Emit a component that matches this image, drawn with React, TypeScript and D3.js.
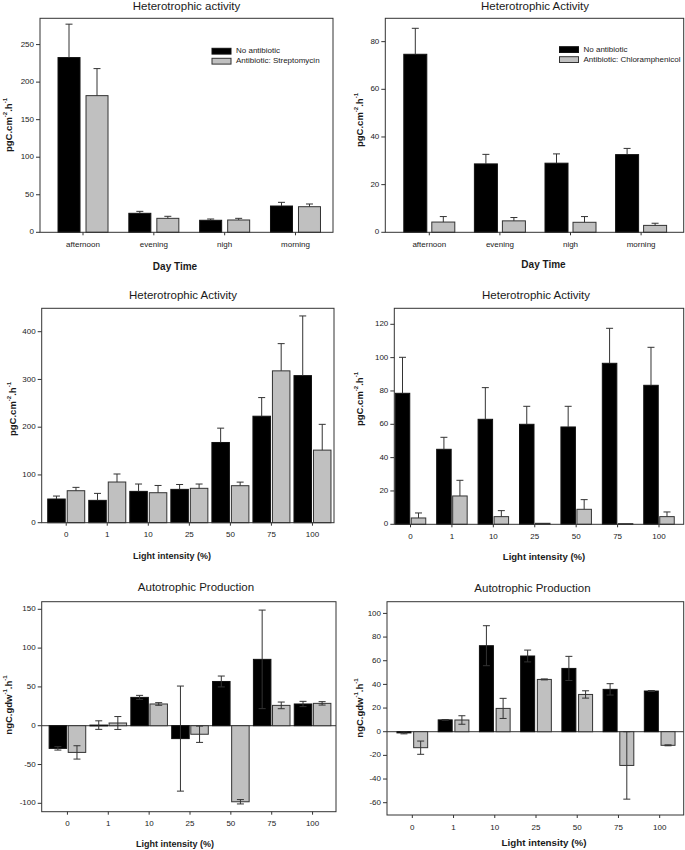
import React from "react";
import * as d3 from "d3";

// ---------- data ----------
const dayCats = ["afternoon", "evening", "nigh", "morning"];
const lightCats = ["0", "1", "10", "25", "50", "75", "100"];

const strepNoAb = [232.7, 25.3, 16, 35];
const strepNoAbErr = [44.5, 2.6, 1.7, 4.9];
const strepAb = [182, 18.6, 16.4, 34.1];
const strepAbErr = [36, 2.7, 2.2, 3.6];

const chlorNoAb = [74.7, 28.7, 29, 32.6];
const chlorNoAbErr = [10.9, 4, 3.9, 2.6];
const chlorAb = [4.3, 4.8, 4.2, 2.9];
const chlorAbErr = [2.3, 1.4, 2.4, 0.9];

const het1NoAb = [49.6, 46.8, 65.6, 69.8, 168, 223, 308];
const het1NoAbErr = [6.2, 14.6, 15.4, 10.2, 30, 39, 125];
const het1Ab = [67, 85.2, 62.8, 72, 77.5, 318, 152];
const het1AbErr = [7, 16.8, 15.2, 9, 7.5, 57, 54];

const het2NoAb = [78.6, 45, 63, 60, 58.4, 96.6, 83.4];
const het2NoAbErr = [21.6, 7.2, 19, 10.8, 12.4, 21, 22.8];
const het2Ab = [3.8, 17, 4.6, 0.6, 9, 0.4, 4.6];
const het2AbErr = [3, 9.4, 3.6, 0, 5.8, 0, 2.8];

const auto1NoAb = [-29.2, 0.8, 36.5, -16.6, 57, 85.5, 28];
const auto1NoAbErr = [2.2, 5.5, 2.6, 67.7, 7, 63.5, 3.4];
const auto1Ab = [-34.4, 3.5, 28, -11, -98, 26.2, 28.8];
const auto1AbErr = [8.6, 8.3, 1.7, 10.5, 2.8, 4.3, 2.2];

const auto2NoAb = [-1, 10, 72.7, 64, 53.5, 35.8, 34.4];
const auto2NoAbErr = [0.8, 0.3, 16.9, 5, 10.2, 4.8, 0.4];
const auto2Ab = [-13.5, 9.9, 19.7, 44.2, 31.5, -28.5, -11.5];
const auto2AbErr = [5.6, 3.6, 8.5, 0.4, 3.1, 28.5, 0.4];

const ticks1 = [0, 50, 100, 150, 200, 250];
const ticks2 = [0, 20, 40, 60, 80];
const ticks3 = [0, 100, 200, 300, 400];
const ticks4 = [0, 20, 40, 60, 80, 100, 120];
const ticks5 = [-100, -50, 0, 50, 100, 150];
const ticks6 = [-60, -40, -20, 0, 20, 40, 60, 80, 100];

const legendNoAb = "No antibiotic";
const legendStrep = "Antibiotic: Streptomycin";
const legendChlor = "Antibiotic: Chloramphenicol";

// ---------- styles ----------
const FONT = "'Liberation Sans', Arial, Helvetica, sans-serif";
const TXT = "#1a1a1a";
const AX = "#333";
const BLACK = "#000";
const GRAY = "#c0c0c0";

type PanelProps = {
  frame: [number, number, number, number];
  domain: [number, number];
  ticks: number[];
  cats: string[];
  bandRange: [number, number];
  barW: number;
  gap: number;
  a: number[];
  aErr: number[];
  b: number[];
  bErr: number[];
  twoSided?: boolean;
  title: string;
  titlePos: [number, number];
  xLabel: string;
  xLabelPos: [number, number];
  xLabelSize: number;
  yUnit: [string, string, string, string];
  yLabelPos: [number, number];
  legend?: { x: number; y: number; labels: [string, string] };
  zeroLine?: boolean;
};

function Panel(p: PanelProps) {
  const [x0, y0, x1, y1] = p.frame;
  const y = d3.scaleLinear().domain(p.domain).range([y1, y0]);
  const x = d3.scaleBand<string>().domain(p.cats).range(p.bandRange).padding(0);
  const center = (c: string) => (x(c) as number) + x.bandwidth() / 2;
  const capW = 7;

  const bars = (vals: number[], errs: number[], fill: string, stroke: string, side: number) =>
    p.cats.map((c, i) => {
      const cx = center(c);
      const bx = side < 0 ? cx - p.gap / 2 - p.barW : cx + p.gap / 2;
      const v = vals[i];
      const e = errs[i];
      const top = y(Math.max(0, v));
      const bot = y(Math.min(0, v));
      const mid = bx + p.barW / 2;
      let eTop: number, eBot: number;
      if (p.twoSided) {
        eTop = y(v + e);
        eBot = y(v - e);
      } else {
        eTop = y(v >= 0 ? v + e : v);
        eBot = y(v >= 0 ? v : v - e);
      }
      const showTop = p.twoSided || v >= 0;
      const showBot = p.twoSided || v < 0;
      return (
        <g key={c + side}>
          <rect x={bx} y={top} width={p.barW} height={Math.max(0.8, bot - top)} fill={fill} stroke={stroke} strokeWidth={1} />
          {e > 0 && (
            <g stroke={AX} strokeWidth={1}>
              <line x1={mid} x2={mid} y1={eTop} y2={eBot} />
              {showTop && <line x1={mid - capW / 2} x2={mid + capW / 2} y1={eTop} y2={eTop} />}
              {showBot && <line x1={mid - capW / 2} x2={mid + capW / 2} y1={eBot} y2={eBot} />}
            </g>
          )}
        </g>
      );
    });

  return (
    <g fontFamily={FONT} fill={TXT}>
      <text x={p.titlePos[0]} y={p.titlePos[1]} textAnchor="middle" dominantBaseline="middle" fontSize={11.5}>
        {p.title}
      </text>
      {p.zeroLine && <line x1={x0} x2={x1} y1={y(0)} y2={y(0)} stroke={AX} strokeWidth={1} />}
      {bars(p.a, p.aErr, BLACK, "#111", -1)}
      {bars(p.b, p.bErr, GRAY, "#333", 1)}
      <rect x={x0} y={y0} width={x1 - x0} height={y1 - y0} fill="none" stroke={AX} strokeWidth={1} />
      {p.ticks.map((t) => (
        <g key={"yt" + t}>
          <line x1={x0 - 4} x2={x0} y1={y(t)} y2={y(t)} stroke={AX} strokeWidth={1} />
          <text x={x0 - 6} y={y(t)} textAnchor="end" dominantBaseline="middle" fontSize={8}>
            {t}
          </text>
        </g>
      ))}
      {p.cats.map((c) => (
        <g key={"xt" + c}>
          <line x1={center(c)} x2={center(c)} y1={y1} y2={y1 + 3} stroke={AX} strokeWidth={1} />
          <text x={center(c)} y={y1 + 12.5} textAnchor="middle" dominantBaseline="middle" fontSize={8}>
            {c}
          </text>
        </g>
      ))}
      <text x={p.xLabelPos[0]} y={p.xLabelPos[1]} textAnchor="middle" dominantBaseline="middle" fontSize={p.xLabelSize} fontWeight="bold">
        {p.xLabel}
      </text>
      <text
        transform={`translate(${p.yLabelPos[0]},${p.yLabelPos[1]}) rotate(-90)`}
        textAnchor="middle"
        dominantBaseline="middle"
        fontSize={9.5}
        fontWeight="bold"
      >
        {p.yUnit[0]}
        <tspan fontSize={6} dy={-4}>{p.yUnit[1]}</tspan>
        <tspan dy={4}>{p.yUnit[2]}</tspan>
        <tspan fontSize={6} dy={-4}>{p.yUnit[3]}</tspan>
      </text>
      {p.legend && (
        <g>
          <rect x={p.legend.x} y={p.legend.y} width={19} height={5.8} fill={BLACK} stroke="#111" />
          <text x={p.legend.x + 24} y={p.legend.y + 3} dominantBaseline="middle" fontSize={8}>
            {p.legend.labels[0]}
          </text>
          <rect x={p.legend.x} y={p.legend.y + 10} width={19} height={5.8} fill={GRAY} stroke="#333" />
          <text x={p.legend.x + 24} y={p.legend.y + 13} dominantBaseline="middle" fontSize={8}>
            {p.legend.labels[1]}
          </text>
        </g>
      )}
    </g>
  );
}

const pgUnit: [string, string, string, string] = ["pgC.cm", "-2", ".h", "-1"];
const ngUnit: [string, string, string, string] = ["ngC.gdw", "-1", ".h", "-1"];

export default function App() {
  return (
    <svg width={685} height={850} style={{ position: "absolute", left: 0, top: 0, background: "#fff" }}>
      <rect width={685} height={850} fill="#fff" />
      <Panel
        frame={[40, 18.3, 333, 232.3]}
        domain={[0, 285]}
        ticks={ticks1}
        cats={dayCats}
        bandRange={[47.6, 330.9]}
        barW={22}
        gap={6}
        a={strepNoAb}
        aErr={strepNoAbErr}
        b={strepAb}
        bErr={strepAbErr}
        title="Heterotrophic activity"
        titlePos={[186.5, 7]}
        xLabel="Day Time"
        xLabelPos={[175, 267]}
        xLabelSize={10}
        yUnit={pgUnit}
        yLabelPos={[9, 125]}
        legend={{ x: 212, y: 48.3, labels: [legendNoAb, legendStrep] }}
      />
      <Panel
        frame={[385.3, 18.3, 683.7, 232.3]}
        domain={[0, 89.8]}
        ticks={ticks2}
        cats={dayCats}
        bandRange={[394, 676.4]}
        barW={23}
        gap={5}
        a={chlorNoAb}
        aErr={chlorNoAbErr}
        b={chlorAb}
        bErr={chlorAbErr}
        title="Heterotrophic Activity"
        titlePos={[535, 7]}
        xLabel="Day Time"
        xLabelPos={[543.5, 265]}
        xLabelSize={10}
        yUnit={pgUnit}
        yLabelPos={[360, 120]}
        legend={{ x: 559.5, y: 46.7, labels: [legendNoAb, legendChlor] }}
      />
      <Panel
        frame={[41.7, 308.3, 334, 522.7]}
        domain={[0, 449]}
        ticks={ticks3}
        cats={lightCats}
        bandRange={[45.7, 333]}
        barW={17.5}
        gap={2}
        a={het1NoAb}
        aErr={het1NoAbErr}
        b={het1Ab}
        bErr={het1AbErr}
        title="Heterotrophic Activity"
        titlePos={[183, 296]}
        xLabel="Light intensity (%)"
        xLabelPos={[172, 557]}
        xLabelSize={9}
        yUnit={pgUnit}
        yLabelPos={[13, 409]}
      />
      <Panel
        frame={[394.3, 308.3, 683.7, 524.3]}
        domain={[0, 129.6]}
        ticks={ticks4}
        cats={lightCats}
        bandRange={[389.8, 679.7]}
        barW={14.5}
        gap={1.5}
        a={het2NoAb}
        aErr={het2NoAbErr}
        b={het2Ab}
        bErr={het2AbErr}
        title="Heterotrophic Activity"
        titlePos={[536, 296]}
        xLabel="Light intensity (%)"
        xLabelPos={[544, 557]}
        xLabelSize={9.5}
        yUnit={pgUnit}
        yLabelPos={[360, 399]}
      />
      <Panel
        frame={[41.7, 601.7, 336, 811.7]}
        domain={[-110.8, 159.8]}
        ticks={ticks5}
        cats={lightCats}
        bandRange={[47, 333]}
        barW={17.5}
        gap={1.6}
        a={auto1NoAb}
        aErr={auto1NoAbErr}
        b={auto1Ab}
        bErr={auto1AbErr}
        twoSided
        zeroLine
        title="Autotrophic Production"
        titlePos={[196, 588]}
        xLabel="Light intensity (%)"
        xLabelPos={[175, 845]}
        xLabelSize={9}
        yUnit={ngUnit}
        yLabelPos={[9, 705]}
      />
      <Panel
        frame={[387, 601.7, 683.7, 815]}
        domain={[-70.4, 109.9]}
        ticks={ticks6}
        cats={lightCats}
        bandRange={[391.7, 680.3]}
        barW={14}
        gap={2.7}
        a={auto2NoAb}
        aErr={auto2NoAbErr}
        b={auto2Ab}
        bErr={auto2AbErr}
        twoSided
        zeroLine
        title="Autotrophic Production"
        titlePos={[532.5, 589]}
        xLabel="Light intensity (%)"
        xLabelPos={[544, 843]}
        xLabelSize={9.8}
        yUnit={ngUnit}
        yLabelPos={[360, 708]}
      />
    </svg>
  );
}
